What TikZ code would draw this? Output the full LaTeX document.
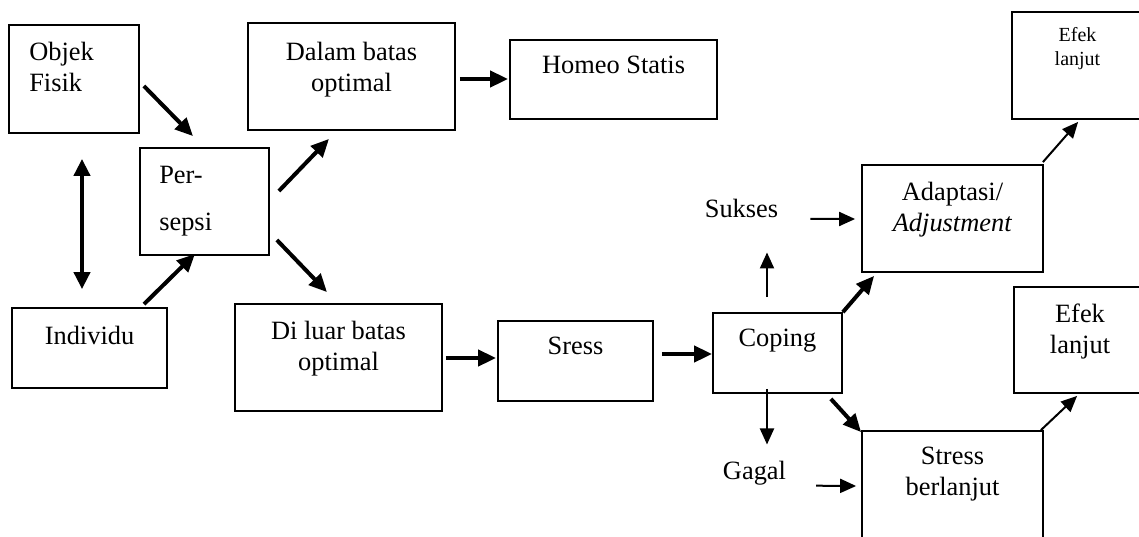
\documentclass[tikz,border=0pt]{standalone}
\usepackage{fontspec}
\setmainfont{Liberation Serif}
\usetikzlibrary{arrows.meta, calc}
\tikzstyle{box} = [rectangle, draw=black, line width=1.8pt]
\tikzstyle{boxtext} = [align=center, inner sep=0pt, anchor=north]
\tikzstyle{word} = [anchor=base, inner sep=0pt]
\tikzstyle{arrow} = [line width=4pt, -{Triangle[length=18pt, width=16pt]}]
\tikzstyle{thinarrow} = [line width=2pt, -{Triangle[length=16pt, width=14pt]}]
\tikzstyle{twoway} = [line width=4pt, {Triangle[length=17pt, width=16pt]}-{Triangle[length=17pt, width=16pt]}]

\begin{document}
\begin{tikzpicture}[x=1pt, y=-1pt, font=\fontsize{26.4}{30.4}\selectfont]
    \useasboundingbox (0,0) rectangle (1139,536);
    \clip (0,0) rectangle (1139,536);

    \node (objek) [box, minimum width=130pt, minimum height=108pt, label={[boxtext, anchor=north west, align=left, xshift=21pt, yshift=-18pt]north west:Objek\\Fisik}] at (74,79) {};
    \node (persepsi) [box, minimum width=129pt, minimum height=107pt, label={[boxtext, anchor=north west, align=left, xshift=20pt, yshift=-19pt]north west:Per-\\[16.6pt]sepsi}] at (204.5,201.5) {};
    \node (individu) [box, minimum width=155pt, minimum height=80pt, label={[boxtext, yshift=-19pt]north:Individu}] at (89.5,348) {};
    \node (dalam) [box, minimum width=207pt, minimum height=107pt, label={[boxtext, yshift=-20pt]north:Dalam batas\\optimal}] at (351.5,76.5) {};
    \node (homeo) [box, minimum width=207pt, minimum height=79pt, label={[boxtext, yshift=-17pt]north:Homeo Statis}] at (613.5,79.5) {};
    \node (diluar) [box, minimum width=207pt, minimum height=107pt, label={[boxtext, yshift=-18pt]north:Di luar batas\\optimal}] at (338.5,357.5) {};
    \node (sress) [box, minimum width=155pt, minimum height=80pt, label={[boxtext, yshift=-17pt]north:Sress}] at (575.5,361) {};
    \node (coping) [box, minimum width=129pt, minimum height=80pt, label={[boxtext, yshift=-17pt]north:Coping}] at (777.5,353) {};
    \node (adaptasi) [box, minimum width=181pt, minimum height=107pt, label={[boxtext, yshift=-18pt]north:Adaptasi/\\\textit{Adjustment}}] at (952.5,218.5) {};
    \node (berlanjut) [box, minimum width=181pt, minimum height=129pt, label={[boxtext, yshift=-17pt]north:Stress\\berlanjut}] at (952.5,495.5) {};
    \node (efekatas) [box, minimum width=131pt, minimum height=107pt, label={[boxtext, yshift=-16pt, font=\fontsize{20}{24}\selectfont]north:Efek\\lanjut}] at (1077.5,65.5) {};
    \node (efeklanjut) [box, minimum width=132pt, minimum height=106pt, label={[boxtext, yshift=-18pt]north:Efek\\lanjut}] at (1080,340) {};

    \node (sukses) [word] at (741.5,217) {Sukses};
    \node (gagal) [word] at (754.5,479) {Gagal};

    % left part
    \draw [arrow] ($(objek.east)+(4,7)$) -- ($(persepsi.north)+(-11.5,-11)$);
    \draw [arrow] ($(individu.north)+(54.5,-3)$) -- ($(persepsi.south)+(-9.5,-2)$);
    \draw [twoway] ($(objek.south)+(8,25)$) -- ($(individu.north)+(-7.5,-18)$);
    \draw [arrow] ($(persepsi.east)+(9,-10.5)$) -- ($(dalam.south)+(-22.5,8)$);
    \draw [arrow] ($(persepsi.east)+(7,38.5)$) -- ($(diluar.north)+(-11.5,-11)$);
    \draw [arrow] ($(dalam.east)+(4,2.5)$) -- ($(homeo.west)+(-1,-0.5)$);
    \draw [arrow] ($(diluar.east)+(3,0.5)$) -- ($(sress.west)+(-1,-3)$);
    \draw [arrow] ($(sress.east)+(8,-7)$) -- ($(coping.west)+(0,1)$);

    % right part
    \draw [thinarrow] ($(coping.north)+(-10.5,-15)$) -- ($(sukses.south)+(25.5,35)$);
    \draw [thinarrow] ($(sukses.east)+(32,11)$) -- ($(adaptasi.west)+(-6,0.5)$);
    \draw [arrow] (coping.north east) -- ($(adaptasi.south west)+(13,3)$);
    \draw [thinarrow] ($(adaptasi.north east)+(-1,-2)$) -- ($(efekatas.south west)+(67,2)$);
    \draw [thinarrow] ($(coping.south)+(-10.5,-5)$) -- ($(gagal.north)+(12.5,-16)$);
    \draw [thinarrow] ($(gagal.east)+(30,13)$) -- ($(berlanjut.west)+(-5,-9.5)$);
    \draw [arrow] ($(coping.south east)+(-12,5)$) -- ($(berlanjut.north west)+(0,2)$);
    \draw [thinarrow] ($(berlanjut.north east)+(-3,0)$) -- ($(efeklanjut.south west)+(64,2)$);
\end{tikzpicture}
\end{document}
